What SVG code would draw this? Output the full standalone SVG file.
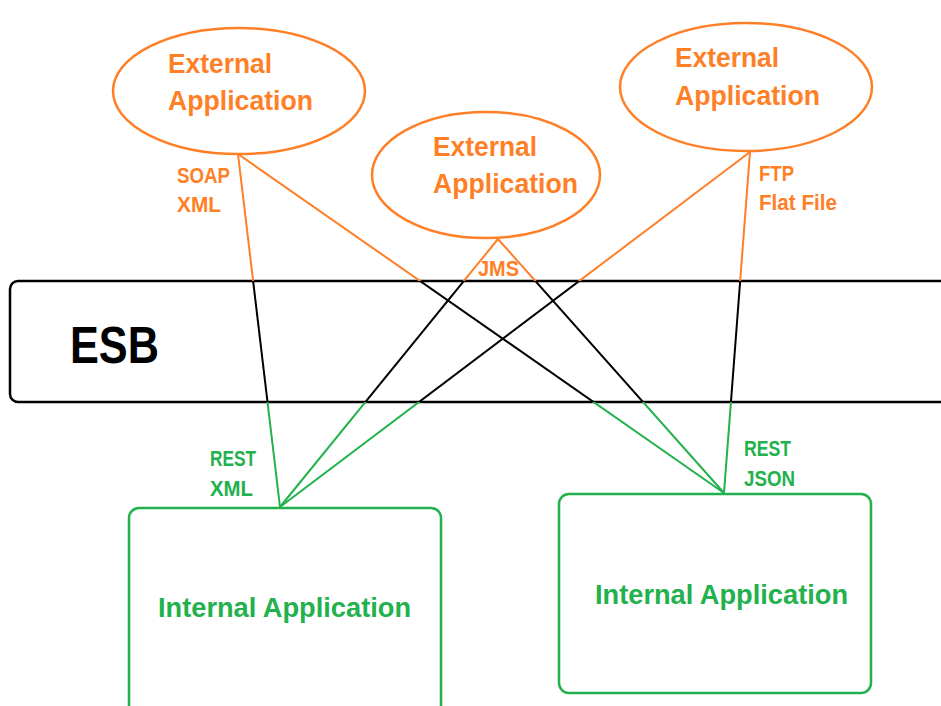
<svg xmlns="http://www.w3.org/2000/svg" width="941" height="706" viewBox="0 0 941 706">
<style>
  .ext { fill: #fff; stroke: #FF7F27; stroke-width: 2.5; }
  .int { fill: #fff; stroke: #22B14C; stroke-width: 2.5; }
  .esb { fill: #fff; stroke: #000; stroke-width: 2.5; }
  .t { font-family: "Liberation Sans", Arial, sans-serif; font-weight: bold; }
  .to { fill: #FF7F27; }
  .tg { fill: #22B14C; }
  .big { font-size: 27px; }
  .lbl { font-size: 22px; }
  .ln { fill: none; stroke-width: 2; }
</style>
<defs>
  <clipPath id="cTop"><rect x="0" y="0" width="941" height="281"/></clipPath>
  <clipPath id="cMid"><rect x="0" y="281" width="941" height="121"/></clipPath>
  <clipPath id="cBot"><rect x="0" y="402" width="941" height="304"/></clipPath>
  <g id="lines">
    <line x1="238" y1="154" x2="280" y2="507"/>
    <line x1="238" y1="154" x2="724" y2="493"/>
    <line x1="498" y1="239" x2="280" y2="507"/>
    <line x1="498" y1="239" x2="724" y2="493"/>
    <line x1="750" y1="152" x2="280" y2="507"/>
    <line x1="750" y1="152" x2="724" y2="493"/>
  </g>
</defs>
<rect x="0" y="0" width="941" height="706" fill="#fff"/>

<g id="esb">
  <rect class="esb" x="10" y="281" width="945" height="121" rx="8"/>
  <text class="t" x="70" y="363" font-size="52" textLength="89" lengthAdjust="spacingAndGlyphs" fill="#000">ESB</text>
</g>

<g id="ext1">
  <ellipse class="ext" cx="239" cy="91" rx="126" ry="63"/>
  <text class="t to big" x="168" y="73" textLength="104" lengthAdjust="spacingAndGlyphs">External</text>
  <text class="t to big" x="168" y="110" textLength="145" lengthAdjust="spacingAndGlyphs">Application</text>
</g>
<g id="ext2">
  <ellipse class="ext" cx="486" cy="175" rx="114" ry="63"/>
  <text class="t to big" x="433" y="156" textLength="104" lengthAdjust="spacingAndGlyphs">External</text>
  <text class="t to big" x="433" y="193" textLength="145" lengthAdjust="spacingAndGlyphs">Application</text>
</g>
<g id="ext3">
  <ellipse class="ext" cx="746" cy="87" rx="126" ry="64"/>
  <text class="t to big" x="675" y="67" textLength="104" lengthAdjust="spacingAndGlyphs">External</text>
  <text class="t to big" x="675" y="105" textLength="145" lengthAdjust="spacingAndGlyphs">Application</text>
</g>

<g id="int1">
  <rect class="int" x="129" y="508" width="312" height="210" rx="10"/>
  <text class="t tg big" x="158" y="617" textLength="253" lengthAdjust="spacingAndGlyphs">Internal Application</text>
</g>
<g id="int2">
  <rect class="int" x="559" y="494" width="312" height="199" rx="10"/>
  <text class="t tg big" x="595" y="604" textLength="253" lengthAdjust="spacingAndGlyphs">Internal Application</text>
</g>

<g id="connectors">
  <use href="#lines" class="ln" stroke="#FF7F27" clip-path="url(#cTop)"/>
  <use href="#lines" class="ln" stroke="#000" clip-path="url(#cMid)"/>
  <use href="#lines" class="ln" stroke="#22B14C" clip-path="url(#cBot)"/>
</g>

<g id="labels">
  <text class="t to lbl" x="177" y="183" textLength="53" lengthAdjust="spacingAndGlyphs">SOAP</text>
  <text class="t to lbl" x="177" y="212" textLength="44" lengthAdjust="spacingAndGlyphs">XML</text>
  <text class="t to lbl" x="478" y="276" textLength="41" lengthAdjust="spacingAndGlyphs">JMS</text>
  <text class="t to lbl" x="759" y="181" textLength="35" lengthAdjust="spacingAndGlyphs">FTP</text>
  <text class="t to lbl" x="759" y="210" textLength="78" lengthAdjust="spacingAndGlyphs">Flat File</text>
  <text class="t tg lbl" x="210" y="466" textLength="46" lengthAdjust="spacingAndGlyphs">REST</text>
  <text class="t tg lbl" x="210" y="496" textLength="43" lengthAdjust="spacingAndGlyphs">XML</text>
  <text class="t tg lbl" x="744" y="456" textLength="47" lengthAdjust="spacingAndGlyphs">REST</text>
  <text class="t tg lbl" x="744" y="486" textLength="51" lengthAdjust="spacingAndGlyphs">JSON</text>
</g>
</svg>
